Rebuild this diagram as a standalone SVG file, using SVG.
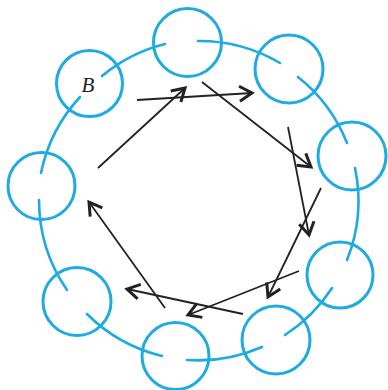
<svg xmlns="http://www.w3.org/2000/svg" width="388" height="390" viewBox="0 0 388 390">
<defs>
<style>
.c{fill:none;stroke:#1eaae2;stroke-width:3}
.a{fill:none;stroke:#1eaae2;stroke-width:2.6;stroke-linecap:round}
.v{fill:none;stroke:#222;stroke-width:1.8;marker-end:url(#h)}
.t{font-family:"Liberation Serif",serif;font-style:italic;font-size:21px;fill:#222}
</style>
<marker id="h" markerUnits="userSpaceOnUse" markerWidth="20" markerHeight="20" viewBox="-12 -8 14 16" refX="0" refY="0" orient="auto">
<path d="M-10,-6 L0,0 L-10,6" fill="none" stroke="#222" stroke-width="2.4" stroke-linejoin="miter"/>
</marker>
</defs>
<rect width="388" height="390" fill="#fff"/>
<g id="ring">
<path class="a" d="M41,173 A159,159 0 0 1 80,97"/>
<path class="a" d="M102,76 A159,159 0 0 1 165,44"/>
<path class="a" d="M198,41 A159,159 0 0 1 280,63"/>
<path class="a" d="M298,77 A159,159 0 0 1 347,143"/>
<path class="a" d="M355,168 A159,159 0 0 1 347,260"/>
<path class="a" d="M332,288 A159,159 0 0 1 285,335"/>
<path class="a" d="M262,347 A159,159 0 0 1 187,360"/>
<path class="a" d="M162,356 A159,159 0 0 1 87,314"/>
<path class="a" d="M67,290 A159,159 0 0 1 39,200"/>
</g>
<g id="nB"><circle class="c" cx="89.5" cy="83.5" r="33"/><text class="t" x="88" y="92" text-anchor="middle">B</text></g>
<g id="n1"><circle class="c" cx="187.5" cy="42.5" r="34"/></g>
<g id="n2"><circle class="c" cx="289" cy="69" r="34"/></g>
<g id="n3"><circle class="c" cx="352" cy="156" r="34"/></g>
<g id="n4"><circle class="c" cx="340" cy="275" r="33"/></g>
<g id="n5"><circle class="c" cx="276" cy="340" r="34"/></g>
<g id="n6"><circle class="c" cx="175.5" cy="356" r="33.5"/></g>
<g id="n7"><circle class="c" cx="77" cy="301.5" r="34"/></g>
<g id="n8"><circle class="c" cx="41.5" cy="186" r="33.5"/></g>
<g id="arrows">
<line class="v" x1="98" y1="168" x2="185" y2="88"/>
<line class="v" x1="137" y1="100" x2="252" y2="93"/>
<line class="v" x1="202" y1="82" x2="311" y2="167"/>
<line class="v" x1="288" y1="127" x2="309" y2="235"/>
<line class="v" x1="321" y1="188" x2="268" y2="297"/>
<line class="v" x1="299" y1="271" x2="188" y2="315"/>
<line class="v" x1="243" y1="314" x2="127" y2="289"/>
<line class="v" x1="165" y1="308" x2="89" y2="202"/>
</g>
</svg>
